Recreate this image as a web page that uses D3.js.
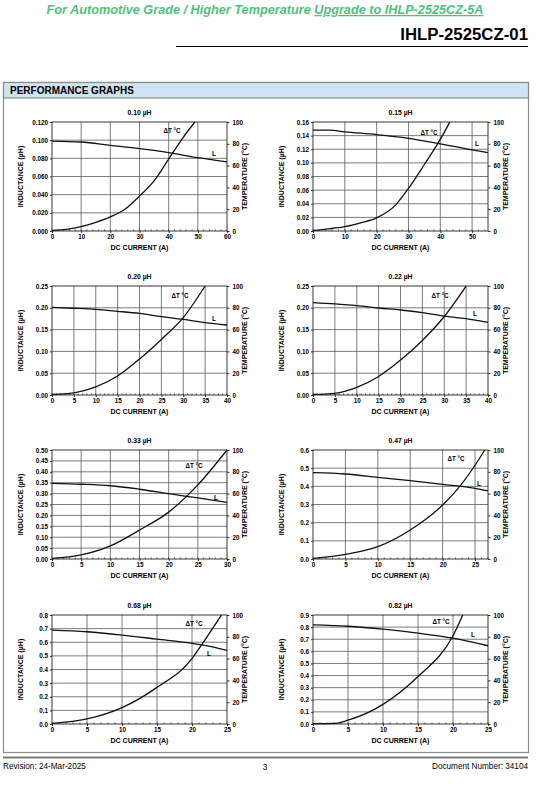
<!DOCTYPE html>
<html>
<head>
<meta charset="utf-8">
<script src="https://cdn.jsdelivr.net/npm/d3@7"></script>
<style>
  body { margin: 0; background: #fff; }
  svg { display: block; font-family: "Liberation Sans", Arial, sans-serif; }
</style>
</head>
<body>
<div id="page"></div>
<script>
// chart titles, axis ranges and tick steps
var titles   = ["0.10 µH", "0.15 µH", "0.20 µH", "0.22 µH", "0.33 µH", "0.47 µH", "0.68 µH", "0.82 µH"];
var xMax     = [60, 55, 40, 40, 30, 27, 25, 25];
var xStep    = [10, 10, 5, 5, 5, 5, 5, 5];
var lMax     = [0.12, 0.16, 0.25, 0.25, 0.50, 0.6, 0.8, 0.9];
var lStep    = [0.02, 0.02, 0.05, 0.05, 0.05, 0.1, 0.1, 0.1];
var lFormat  = [".3f", ".2f", ".2f", ".2f", ".2f", ".1f", ".1f", ".1f"];
var tTicks   = [0, 20, 40, 60, 80, 100];

// inductance curves, [current A, L µH]
var L010 = [[0,0.099],[10,0.098],[20,0.0943],[30,0.0906],[40,0.0862],[50,0.0807],[60,0.076]];
var L015 = [[0,0.148],[5,0.148],[10,0.1455],[20,0.1415],[30,0.136],[40,0.128],[50,0.119],[55,0.115]];
var L020 = [[0,0.201],[5,0.199],[10,0.1965],[15,0.192],[20,0.187],[25,0.180],[30,0.1735],[35,0.166],[40,0.1605]];
var L022 = [[0,0.212],[5,0.209],[10,0.205],[15,0.1995],[20,0.195],[25,0.189],[30,0.181],[35,0.175],[40,0.1665]];
var L033 = [[0,0.347],[5,0.343],[10,0.336],[15,0.32],[20,0.300],[25,0.280],[30,0.260]];
var L047 = [[0,0.475],[5,0.468],[10,0.4495],[15,0.431],[20,0.411],[25,0.389],[27,0.375]];
var L068 = [[0,0.689],[5,0.677],[10,0.653],[15,0.623],[20,0.592],[22,0.575],[25,0.54]];
var L082 = [[0,0.818],[5,0.807],[10,0.783],[15,0.75],[20,0.709],[25,0.646]];

// temperature rise curves, [current A, dT °C]
var T010 = [[0,0.5],[5,1.5],[10,4],[15,8],[20,13],[25,20],[30,32],[35,46],[40,66],[45,86],[49,100]];
var T015 = [[0,0.5],[5,2],[10,4],[15,7.5],[20,12],[26,24],[30,39],[35,61],[40,84],[43,100]];
var T020 = [[0,0.5],[5,2],[10,7.5],[15,17.5],[20,33],[25,51],[30,71],[35,100]];
var T022 = [[0,0.5],[5,1.5],[10,7],[15,17],[20,32],[25,50],[30,72],[35,100]];
var T033 = [[0,0.5],[5,3.7],[10,12],[15,26.5],[20,43],[25,68],[30,100]];
var T047 = [[0,0.5],[5,4.3],[10,11.3],[15,26.6],[20,49.5],[22,62],[25,86],[26.5,100]];
var T068 = [[0,0.5],[5,4.6],[10,15],[15,33.6],[20,60],[21.3,72],[24.2,100]];
var T082 = [[0,0.3],[3,0.5],[5,3.5],[10,18],[15,43.5],[20,81],[21.4,100]];

var lCurves = [L010, L015, L020, L022, L033, L047, L068, L082];
var tCurves = [T010, T015, T020, T022, T033, T047, T068, T082];

// layout
var W = 541, H = 802;
var plotW = 175, plotH = 109;
var colX = [52, 313];
var rowY = [122, 286, 450, 615];
// curve label offsets inside each plot [dx, dy]
var dtPos = [[120,9],[116,11],[128,10],[127,10],[142,16],[143,9],[142,9],[128,7]];
var lPos  = [[162,32],[164,22],[162,33],[162,28],[164,48],[166,34],[157,39],[160,20]];

var svg = d3.select("#page").append("svg").attr("width", W).attr("height", H);

// header
var head = svg.append("text").attr("x", 265).attr("y", 14)
	.attr("text-anchor", "middle").attr("fill", "#52bf7c")
	.style("font-size", "12.7px").style("font-weight", "bold").style("font-style", "italic");
head.append("tspan").text("For Automotive Grade / Higher Temperature ");
head.append("tspan").attr("text-decoration", "underline").text("Upgrade to IHLP-2525CZ-5A");

svg.append("text").attr("x", 528).attr("y", 40).attr("text-anchor", "end")
	.style("font-size", "16.8px").style("font-weight", "bold").text("IHLP-2525CZ-01");
svg.append("line").attr("x1", 176).attr("x2", 528).attr("y1", 46.5).attr("y2", 46.5)
	.attr("stroke", "#000").attr("stroke-width", 1);

// panel
svg.append("rect").attr("x", 3.5).attr("y", 82.5).attr("width", 525).attr("height", 670)
	.attr("fill", "none").attr("stroke", "#8c8c8c").attr("stroke-width", 1.2);
svg.append("rect").attr("x", 3.5).attr("y", 82.5).attr("width", 525).attr("height", 15.5)
	.attr("fill", "#cfe4f1").attr("stroke", "#8c8c8c").attr("stroke-width", 1.2);
svg.append("text").attr("x", 10).attr("y", 94).style("font-size", "10px")
	.style("font-weight", "900").text("PERFORMANCE GRAPHS");

// footer
svg.append("line").attr("x1", 3).attr("x2", 528).attr("y1", 757.5).attr("y2", 757.5)
	.attr("stroke", "#7a7a7a").attr("stroke-width", 2);
var foot = svg.append("g").style("font-size", "8.2px");
foot.append("text").attr("x", 3).attr("y", 769).text("Revision: 24-Mar-2025");
foot.append("text").attr("x", 265).attr("y", 770).attr("text-anchor", "middle").text("3");
foot.append("text").attr("x", 528).attr("y", 769).attr("text-anchor", "end").text("Document Number: 34104");

function drawChart(i){
	var ox = colX[i % 2], oy = rowY[Math.floor(i / 2)];
	var g = svg.append("g").attr("transform", "translate(" + ox + "," + oy + ")");

	var x = d3.scaleLinear().domain([0, xMax[i]]).range([0, plotW]);
	var yL = d3.scaleLinear().domain([0, lMax[i]]).range([plotH, 0]);
	var yT = d3.scaleLinear().domain([0, 100]).range([plotH, 0]);

	var xt = d3.range(0, xMax[i] + 1e-9, xStep[i]);
	var xMinor = d3.range(0, xMax[i] + 1e-9, xStep[i] / 5);
	var lt = d3.range(0, Math.round(lMax[i] / lStep[i]) + 1).map(function(k){ return k * lStep[i]; });

	// grid
	g.append("g").selectAll("line").data(xt.filter(function(v){ return v > 0 && v < xMax[i]; }))
		.enter().append("line")
		.attr("x1", function(d){ return x(d); }).attr("x2", function(d){ return x(d); })
		.attr("y1", 0).attr("y2", plotH)
		.attr("stroke", "#5a5a5a").attr("stroke-width", 0.8);
	g.append("g").selectAll("line").data(lt.slice(1, -1))
		.enter().append("line")
		.attr("y1", function(d){ return yL(d); }).attr("y2", function(d){ return yL(d); })
		.attr("x1", 0).attr("x2", plotW)
		.attr("stroke", "#5a5a5a").attr("stroke-width", 0.8);

	// minor ticks along bottom
	g.append("g").selectAll("line").data(xMinor)
		.enter().append("line")
		.attr("x1", function(d){ return x(d); }).attr("x2", function(d){ return x(d); })
		.attr("y1", plotH).attr("y2", plotH - 1.6)
		.attr("stroke", "#000").attr("stroke-width", 0.6);

	// axes
	var fs = "6.3px";
	var ax = g.append("g").attr("transform", "translate(0," + plotH + ")")
		.call(d3.axisBottom(x).tickValues(xt).tickSize(2).tickPadding(2).tickFormat(d3.format("d")));
	var al = g.append("g")
		.call(d3.axisLeft(yL).tickValues(lt).tickSize(2).tickPadding(2).tickFormat(d3.format(lFormat[i])));
	var ar = g.append("g").attr("transform", "translate(" + plotW + ",0)")
		.call(d3.axisRight(yT).tickValues(tTicks).tickSize(2.5).tickPadding(3).tickFormat(d3.format("d")));
	[ax, al, ar].forEach(function(a){
		a.select(".domain").remove();
		a.selectAll("line").attr("stroke", "#000").attr("stroke-width", 0.8);
		a.selectAll("text").style("font-size", fs).style("font-weight", "bold")
			.style("font-family", '"Liberation Sans", Arial, sans-serif');
	});

	g.append("rect").attr("width", plotW).attr("height", plotH)
		.attr("fill", "none").attr("stroke", "#222").attr("stroke-width", 0.9);

	// curves
	var lineL = d3.line().curve(d3.curveMonotoneX)
		.x(function(d){ return x(d[0]); }).y(function(d){ return yL(d[1]); });
	var lineT = d3.line().curve(d3.curveMonotoneX)
		.x(function(d){ return x(d[0]); }).y(function(d){ return yT(d[1]); });
	g.append("path").attr("d", lineL(lCurves[i]))
		.attr("fill", "none").attr("stroke", "#111").attr("stroke-width", 1.3);
	g.append("path").attr("d", lineT(tCurves[i]))
		.attr("fill", "none").attr("stroke", "#111").attr("stroke-width", 1.3);

	// curve labels
	g.append("text").attr("x", dtPos[i][0]).attr("y", dtPos[i][1]).attr("dy", "0.35em")
		.attr("text-anchor", "middle").style("font-size", "6.3px").style("font-weight", "bold")
		.text("ΔT °C");
	g.append("text").attr("x", lPos[i][0]).attr("y", lPos[i][1]).attr("dy", "0.35em")
		.attr("text-anchor", "middle").style("font-size", "6.5px").style("font-weight", "bold")
		.text("L");

	// titles and axis labels
	g.append("text").attr("x", plotW / 2).attr("y", -7).attr("text-anchor", "middle")
		.style("font-size", "6.8px").style("font-weight", "bold").text(titles[i]);
	g.append("text").attr("x", plotW / 2).attr("y", plotH + 18.5).attr("text-anchor", "middle")
		.style("font-size", "7px").style("font-weight", "bold").text("DC CURRENT (A)");
	g.append("text").attr("transform", "translate(-29," + (plotH / 2) + ") rotate(-90)")
		.attr("text-anchor", "middle").style("font-size", "7px").style("font-weight", "bold")
		.text("INDUCTANCE (µH)");
	g.append("text").attr("transform", "translate(" + (plotW + 20) + "," + (plotH / 2) + ") rotate(-90)")
		.attr("text-anchor", "middle").style("font-size", "7px").style("font-weight", "bold")
		.text("TEMPERATURE (°C)");
}

for (var i = 0; i < titles.length; i++) drawChart(i);
</script>
</body>
</html>
